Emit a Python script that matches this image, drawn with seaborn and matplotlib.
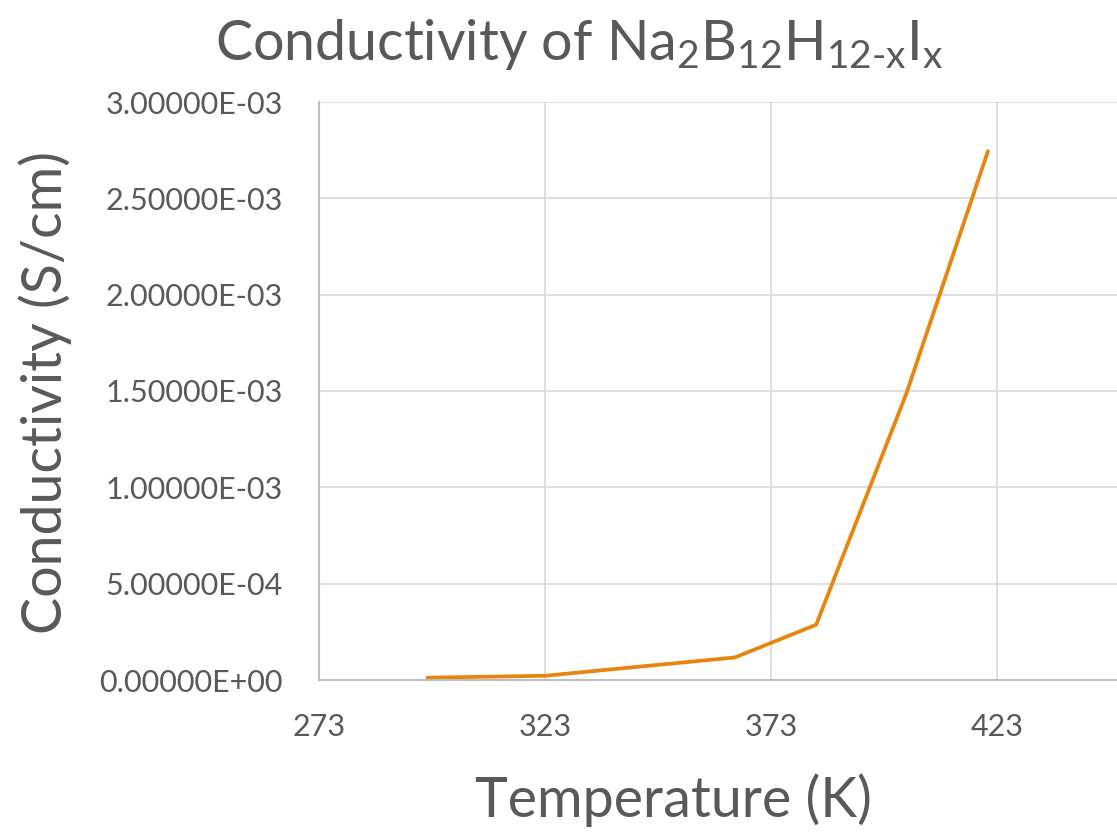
import matplotlib
matplotlib.use("Agg")
import matplotlib.pyplot as plt
import matplotlib.ticker as mticker
import seaborn as sns
import pandas as pd

# Data
temperature_k = [297, 323, 365, 383, 403, 421]
conductivity = [1.2e-5, 2.2e-5, 1.17e-4, 2.87e-4, 1.49e-3, 2.745e-3]
x_ticks = [273, 323, 373, 423]
y_ticks = [0.0, 5e-4, 1e-3, 1.5e-3, 2e-3, 2.5e-3, 3e-3]

title_text = r"Conductivity of Na$_{2}$B$_{12}$H$_{12\text{-}x}$I$_{x}$"
x_label = "Temperature (K)"
y_label = "Conductivity (S/cm)"

sns.set_theme(style="whitegrid")
plt.rcParams["font.family"] = ["Lato", "DejaVu Sans"]
plt.rcParams["mathtext.fontset"] = "custom"
plt.rcParams["mathtext.rm"] = "Lato"
plt.rcParams["mathtext.it"] = "Lato"
plt.rcParams["mathtext.default"] = "regular"

TEXT = "#595959"
LINE = "#E8850E"

W, H = 1117, 836
fig = plt.figure(figsize=(W / 100, H / 100), dpi=100)
left_px, right_px, top_px, bottom_px = 319, 1223, 102, 680
ax = fig.add_axes([left_px / W, 1 - bottom_px / H,
                   (right_px - left_px) / W, (bottom_px - top_px) / H])

df = pd.DataFrame({"T": temperature_k, "sigma": conductivity})
sns.lineplot(data=df, x="T", y="sigma", ax=ax, color=LINE, linewidth=2.7,
             solid_capstyle="round", solid_joinstyle="miter")

ax.set_xlim(273, 473)
ax.set_ylim(0, 3e-3)
ax.set_xticks(x_ticks)
ax.set_yticks(y_ticks)
ax.yaxis.set_major_formatter(mticker.FuncFormatter(lambda v, p: f"{v:.5E}"))
ax.xaxis.set_major_formatter(mticker.FuncFormatter(lambda v, p: f"{int(v)}"))

ax.grid(True, color="#D9D9D9", linewidth=1.2)
ax.set_axisbelow(True)
for side in ["top", "right"]:
    ax.spines[side].set_visible(False)
for side in ["left", "bottom"]:
    ax.spines[side].set_visible(True)
    ax.spines[side].set_color("#BFBFBF")
    ax.spines[side].set_linewidth(1.5)

ax.tick_params(axis="y", length=0, pad=26, labelsize=22, labelcolor=TEXT)
ax.tick_params(axis="x", length=0, pad=24, labelsize=22, labelcolor=TEXT)
ax.set_xlabel("")
ax.set_ylabel("")
ax.set_facecolor("white")

fig.text(579 / W, 1 - 45 / H, title_text, ha="center", va="center",
         fontsize=40, color=TEXT)
fig.text(673 / W, 1 - 800 / H, x_label, ha="center", va="center",
         fontsize=40, color=TEXT)
fig.text(45 / W, 1 - 392 / H, y_label, ha="center", va="center",
         rotation=90, fontsize=40, color=TEXT)

fig.savefig("out.png", dpi=100, facecolor="white")
